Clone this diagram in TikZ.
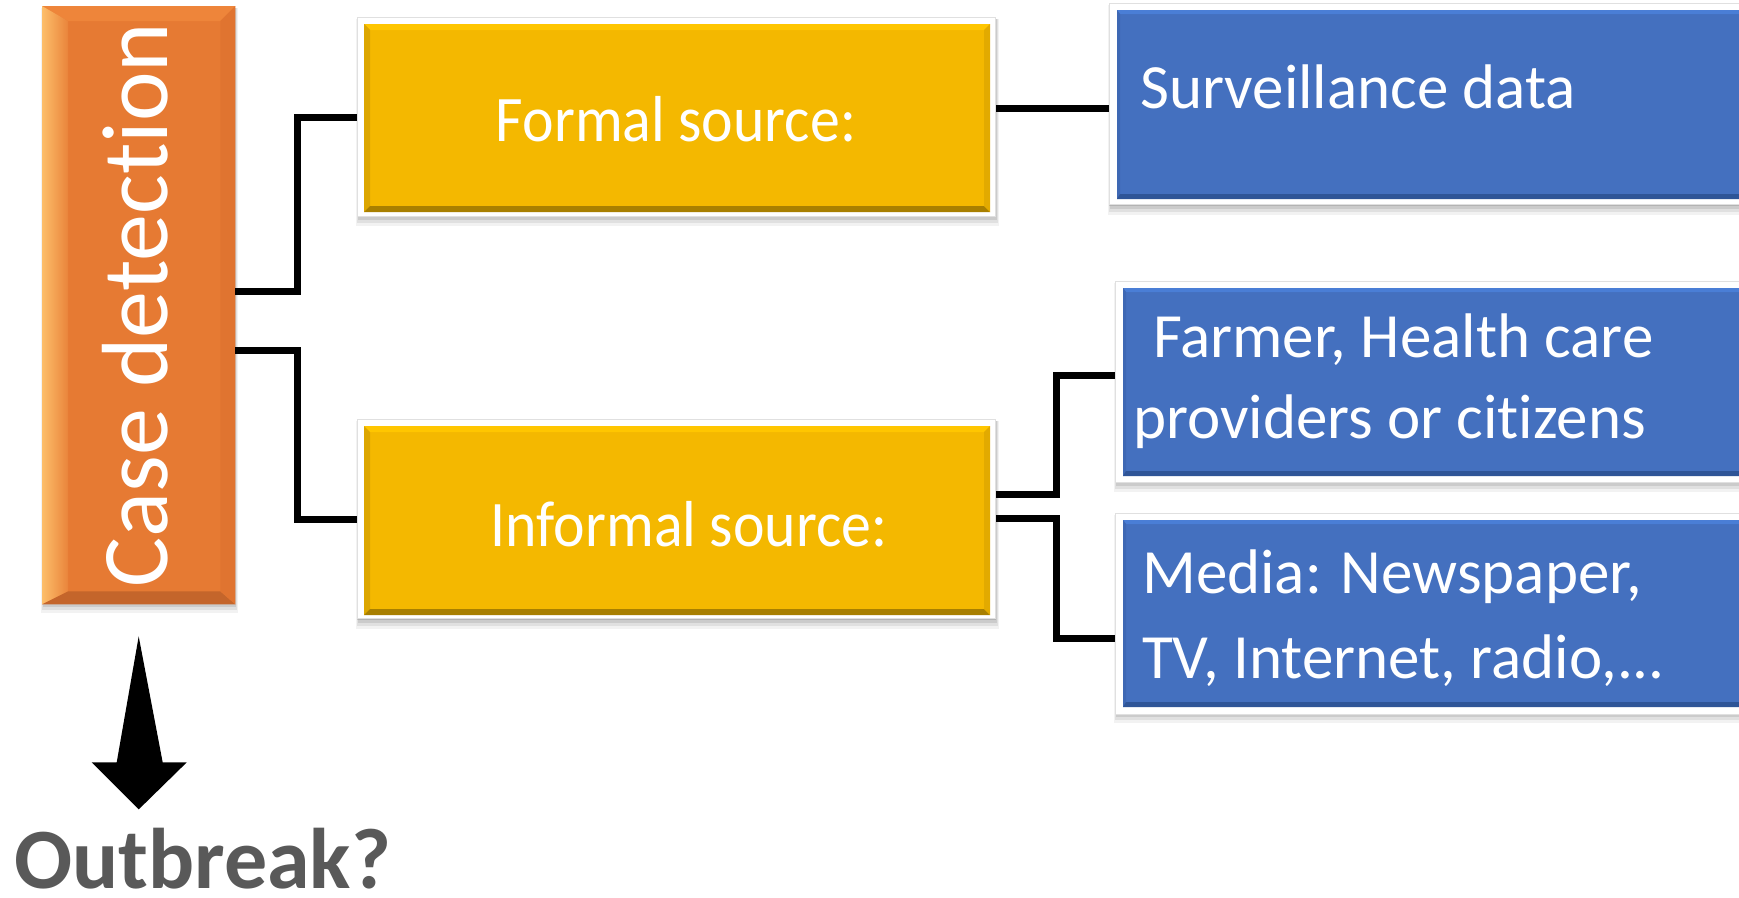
\documentclass[tikz,border=0pt]{standalone}
\usepackage{fontspec}
\usepackage{graphicx}
\setmainfont{Carlito}[Ligatures={NoCommon,NoContextual}]
\usetikzlibrary{calc}
\definecolor{orbasec}{HTML}{E67A33}
\definecolor{ortopc}{HTML}{EE853A}
\definecolor{orbotc}{HTML}{C4652B}
\definecolor{orrightc}{HTML}{E07430}
\definecolor{orlightc}{HTML}{FDBE6A}
\definecolor{yebasec}{HTML}{F4B800}
\definecolor{yetopc}{HTML}{FFC600}
\definecolor{yeleftc}{HTML}{DCA600}
\definecolor{yebotc}{HTML}{A87F00}
\definecolor{yerightc}{HTML}{E2AA00}
\definecolor{blbasec}{HTML}{4470BF}
\definecolor{bltopc}{HTML}{4A7ED6}
\definecolor{blleftc}{HTML}{3E68B4}
\definecolor{blbotc}{HTML}{2F5597}
\definecolor{blrightc}{HTML}{3E68B4}
\definecolor{outgray}{HTML}{595959}
\tikzset{
  orbase/.style={fill=orbasec},
  ortop/.style={fill=ortopc},
  orleft/.style={left color=orlightc, right color=orbasec!85!orlightc},
  orbot/.style={fill=orbotc},
  orright/.style={fill=orrightc},
  yebase/.style={fill=yebasec},
  yetop/.style={fill=yetopc},
  yeleft/.style={fill=yeleftc},
  yebot/.style={fill=yebotc},
  yeright/.style={fill=yerightc},
  blbase/.style={fill=blbasec},
  bltop/.style={fill=bltopc},
  blleft/.style={fill=blleftc},
  blbot/.style={fill=blbotc},
  blright/.style={fill=blrightc},
  frame/.style={anchor=north west, fill=white, draw=black!12, line width=1pt, inner sep=0pt},
  plainbox/.style={anchor=north west, inner sep=0pt},
  conn/.style={draw=black, line width=7pt, line join=miter},
  bluetxt/.style={anchor=base west, inner sep=0pt, text=white, font=\fontsize{63}{63}\selectfont},
  yeltxt/.style={anchor=base, inner sep=0pt, text=white, font=\fontsize{65}{65}\selectfont},
}
\newcommand{\bvl}[7]{%
  \coordinate (bnw) at #1; \coordinate (bse) at #2;
  \coordinate (bne) at (bse |- bnw); \coordinate (bsw) at (bnw |- bse);
  \path[#7base] (bnw) rectangle (bse);
  \path[#7top] (bnw) -- (bne) -- ($(bne)+(-#5,#4)$) -- ($(bnw)+(#3,#4)$) -- cycle;
  \path[#7left] (bnw) -- ($(bnw)+(#3,#4)$) -- ($(bsw)+(#3,-#6)$) -- (bsw) -- cycle;
  \path[#7bot] (bsw) -- ($(bsw)+(#3,-#6)$) -- ($(bse)+(-#5,-#6)$) -- (bse) -- cycle;
  \path[#7right] (bse) -- ($(bse)+(-#5,-#6)$) -- ($(bne)+(-#5,#4)$) -- (bne) -- cycle;
}
\newcommand{\shd}[1]{%
  \fill[black, opacity=0.05] ($(#1.north west)+(-1,2)$) rectangle ($(#1.south east)+(3,9)$);
  \fill[black, opacity=0.07] ($(#1.north west)+(0,2)$) rectangle ($(#1.south east)+(2,6)$);
  \fill[black, opacity=0.09] ($(#1.north west)+(1,2)$) rectangle ($(#1.south east)+(1,3)$);
}
\begin{document}
\begin{tikzpicture}[x=1pt,y=-1pt]
\useasboundingbox (0,0) rectangle (1739,897);
\clip (0,0) rectangle (1739,897);
\fill[white] (0,0) rectangle (1739,897);

% ---- box nodes (geometry) ----
\node[plainbox, minimum width=193pt, minimum height=598pt] (cd) at (42,6) {};
\node[frame, minimum width=638pt, minimum height=199pt] (formal) at (357,17) {};
\node[frame, minimum width=638pt, minimum height=200pt] (informal) at (357,419) {};
\node[frame, minimum width=660pt, minimum height=202pt] (surv) at (1109,3) {};
\node[frame, minimum width=660pt, minimum height=201pt] (farm) at (1115,281) {};
\node[frame, minimum width=660pt, minimum height=200pt] (media) at (1115,513) {};

% orange box
\shd{cd}
\bvl{(cd.north west)}{(cd.south east)}{26}{15}{15}{13}{or}

% yellow boxes
\foreach \n in {formal,informal}{
  \shd{\n}
  \node[frame, minimum width=638pt, minimum height=199pt] at (\n.north west) {};
  \bvl{($(\n.north west)+(7,7)$)}{($(\n.south east)+(-6,-5)$)}{6}{6}{6}{6}{ye}
}
% blue boxes
\foreach \n in {surv,farm,media}{
  \shd{\n}
  \node[frame, minimum width=660pt, minimum height=201pt] at (\n.north west) {};
  \bvl{($(\n.north west)+(8,7)$)}{($(\n.south east)+(0,-7)$)}{3}{4}{0}{5}{bl}
}

% ---- texts ----
\node[rotate=90, anchor=base, inner sep=0pt, text=white,
      font=\fontsize{94}{94}\selectfont] (cdt) at (167,305) {Case detection};
\node[yeltxt] (ft) at (676,141) {\scalebox{0.92}[1]{Formal source:}};
\node[yeltxt] (it) at (689,546) {\scalebox{0.92}[1]{Informal source:}};
\node[bluetxt] (st) at (1140,108) {Surveillance data};
\node[bluetxt] (ft1) at (1153,357) {Farmer, Health care};
\node[bluetxt] (ft2) at (1133,438) {providers or citizens};
\node[bluetxt] (mt1) at (1142,593) {Media: Newspaper,};
\node[bluetxt] (mt2) at (1142,678) {TV, Internet, radio,...};
\node[anchor=base west, inner sep=0pt, text=outgray,
      font=\fontsize{86}{86}\selectfont\bfseries] (ob) at (14,888) {Outbreak?};

% ---- connectors ----
\draw[conn] ([yshift=14pt]cd.east) -- ++(62,0) |- (formal.west);
\draw[conn] ([yshift=-45pt]cd.east) -- ++(62,0) |- (informal.west);
\draw[conn] ([yshift=8.5pt]formal.east) -- ([yshift=8.5pt]formal.east -| surv.west);
\draw[conn] ([yshift=25pt]informal.east) -- ++(60,0) |- ([yshift=7pt]farm.west);
\draw[conn] ([yshift=1pt]informal.east) -- ++(60,0) |- ([yshift=-25pt]media.west);

% ---- block arrow ----
\fill[black] ([yshift=-32pt]cd.south) -- ++(24,126) -- ++(24,0) -- ++(-48,47)
   -- ++(-47,-47) -- ++(25,0) -- cycle;
\end{tikzpicture}
\end{document}
